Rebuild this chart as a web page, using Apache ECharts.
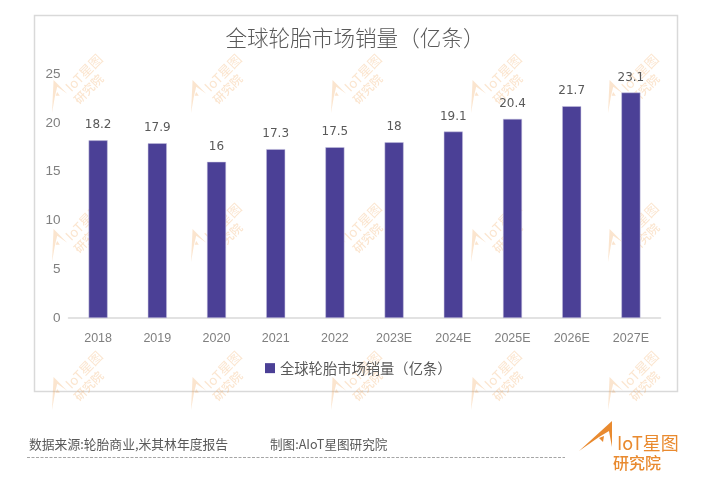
<!DOCTYPE html>
<html>
<head>
<meta charset="utf-8">
<style>
  html, body { margin: 0; padding: 0; background: #fff; }
  #chart { width: 717px; height: 490px; }
</style>
<script src="https://cdn.jsdelivr.net/npm/echarts@6/dist/echarts.min.js"></script>
</head>
<body>
<div id="chart"></div>
<script>
const categories = ['2018', '2019', '2020', '2021', '2022', '2023E', '2024E', '2025E', '2026E', '2027E'];
const sales = [18.2, 17.9, 16, 17.3, 17.5, 18, 19.1, 20.4, 21.7, 23.1];
const seriesName = '全球轮胎市场销量（亿条）';
const sourceText = '数据来源:轮胎商业,米其林年度报告';
const makerText = '制图:AIoT星图研究院';

const cjk = '"Noto Sans CJK SC", "Noto Sans", sans-serif';
const orange = '#e98a2f';

// 品牌标识：原点在 A 字的左下角，水印和右下角 logo 共用
function brand(x, y, rotation, scale, opacity, color) {
  return {
    type: 'group',
    x: x, y: y,
    rotation: rotation,
    scaleX: scale, scaleY: scale,
    silent: true,
    z: 50,
    children: [
      {
        type: 'polygon',
        shape: { points: [[0, 0], [33, -30], [33, -4], [30, -20], [20, -14]] },
        style: { fill: color, opacity: opacity }
      },
      {
        type: 'polygon',
        shape: { points: [[20, -13], [25, -15], [24, -9], [22, -11]] },
        style: { fill: color, opacity: opacity }
      },
      {
        type: 'text',
        x: 38, y: -8,
        style: {
          text: 'IoT星图', fill: color, opacity: opacity,
          font: '400 18px ' + cjk, align: 'left', verticalAlign: 'middle'
        }
      },
      {
        type: 'text',
        x: 34, y: 12,
        style: {
          text: '研究院', fill: color, opacity: opacity,
          font: '500 16px ' + cjk, align: 'left', verticalAlign: 'middle'
        }
      }
    ]
  };
}

const graphics = [
  {
    type: 'rect',
    silent: true,
    z: -1,
    shape: { x: 34.5, y: 15.5, width: 643, height: 376 },
    style: { fill: '#fff', stroke: '#d9d9d9', lineWidth: 1.5 }
  },
  {
    type: 'text', x: 29, y: 444,
    style: { text: sourceText, font: '12.8px ' + cjk, fill: '#595959', verticalAlign: 'middle' }
  },
  {
    type: 'text', x: 270, y: 444,
    style: { text: makerText, font: '12.6px ' + cjk, fill: '#595959', verticalAlign: 'middle' }
  },
  {
    type: 'line',
    shape: { x1: 27, y1: 457.5, x2: 565, y2: 457.5 },
    style: { stroke: '#a6a6a6', lineWidth: 1, lineDash: [3, 1.5] }
  },
  brand(579, 451, 0, 1, 1, orange)
];

// 水印：5 列 3 行
[52, 191, 331, 471, 608].forEach(function (x) {
  [113, 262, 410].forEach(function (y) {
    graphics.push(brand(x, y, Math.PI / 4, 0.74, 0.28, '#f2a154'));
  });
});

const chart = echarts.init(document.getElementById('chart'));
chart.setOption({
  backgroundColor: '#fff',
  animation: false,
  textStyle: { fontFamily: cjk },
  title: {
    text: seriesName,
    left: 355,
    top: 27,
    textAlign: 'center',
    padding: 0,
    textStyle: { fontFamily: cjk, fontSize: 21.6, fontWeight: 300, color: '#595959' }
  },
  legend: {
    show: true,
    left: 260,
    top: 356,
    itemWidth: 10,
    itemHeight: 10,
    itemGap: 6,
    textStyle: { fontFamily: cjk, fontSize: 14.3, color: '#595959' },
    data: [{ name: seriesName, icon: 'rect', itemStyle: { borderWidth: 0 } }]
  },
  grid: { left: 68.5, right: 56.5, top: 74, bottom: 172 },
  xAxis: {
    type: 'category',
    data: categories,
    axisLine: { lineStyle: { color: '#d9d9d9', width: 1.5 } },
    axisTick: { show: false },
    axisLabel: { color: '#7f7f7f', fontSize: 12.5, margin: 14, fontFamily: 'Liberation Sans' }
  },
  yAxis: {
    type: 'value',
    min: 0,
    max: 25,
    interval: 5,
    axisLine: { show: false },
    axisTick: { show: false },
    splitLine: { show: false },
    axisLabel: { color: '#7f7f7f', fontSize: 13.5, margin: 8, fontFamily: 'Liberation Sans' }
  },
  series: [{
    name: seriesName,
    type: 'bar',
    data: sales,
    barWidth: 19,
    itemStyle: { color: '#4b4096', borderColor: '#c9c5e0', borderWidth: 0.5 },
    label: {
      show: true,
      position: 'top',
      distance: 9,
      fontFamily: 'DejaVu Sans',
      fontSize: 12,
      color: '#595959'
    }
  }],
  graphic: graphics
});

window.addEventListener('resize', function () { chart.resize(); });
</script>
</body>
</html>
